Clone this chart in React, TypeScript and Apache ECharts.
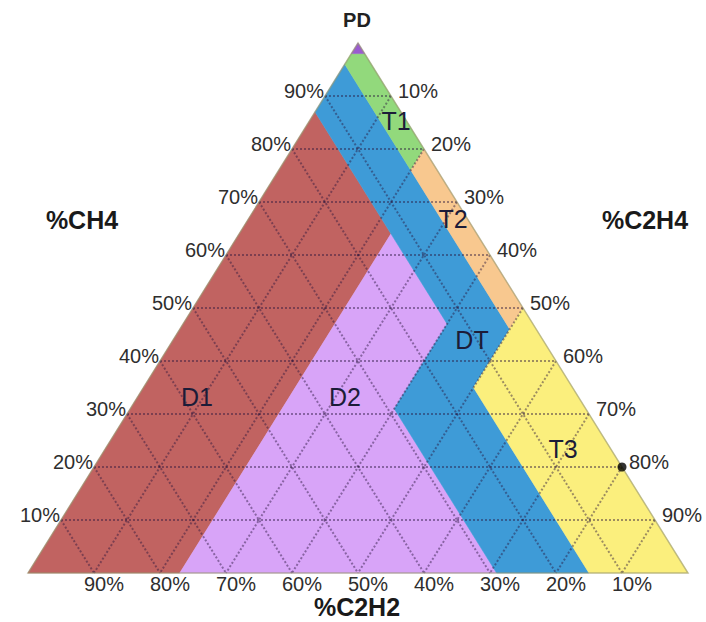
import React, { useEffect, useRef } from "react";
import * as echarts from "echarts";

// ---- data (ternary coordinates: [CH4, C2H4, C2H2] in %) ----
const GRID_PERCENTS = [10, 20, 30, 40, 50, 60, 70, 80, 90];
const TICK_LABELS = GRID_PERCENTS.map((p) => `${p}%`);

const ZONE_NAMES = ["D1", "D2", "DT", "T1", "T2", "T3", "PD"];
const pdZone = [[100, 0, 0], [98, 2, 0], [98, 0, 2]];
const t1Zone = [[98, 2, 0], [80, 20, 0], [76, 20, 4], [96, 0, 4], [98, 0, 2]];
const t2Zone = [[80, 20, 0], [50, 50, 0], [46, 50, 4], [76, 20, 4]];
const t3Zone = [[50, 50, 0], [0, 100, 0], [0, 85, 15], [35, 50, 15]];
const d1Zone = [[87, 0, 13], [0, 0, 100], [0, 23, 77], [64, 23, 13]];
const d2Zone = [[64, 23, 13], [0, 23, 77], [0, 71, 29], [31, 40, 29], [47, 40, 13]];
const dtZone = [
  [96, 0, 4], [76, 20, 4], [46, 50, 4], [35, 50, 15], [0, 85, 15],
  [0, 71, 29], [31, 40, 29], [47, 40, 13], [64, 23, 13], [87, 0, 13],
];
const ZONE_POLYGONS = [d1Zone, d2Zone, dtZone, t1Zone, t2Zone, t3Zone, pdZone];
const OUTLINE = [[100, 0, 0], [0, 100, 0], [0, 0, 100]];

const samplePoints = [[20, 80, 0]];

// ---- styles ----
const ZONE_COLORS: Record<string, string> = {
  D1: "#c16361",
  D2: "#d8a4f8",
  DT: "#3e9bd7",
  T1: "#92d97c",
  T2: "#f8c88f",
  T3: "#fbef7d",
  PD: "#9a5bd0",
};
const FONT = "'Liberation Sans', Arial, sans-serif";

// ternary -> cartesian (0..1)
const toXY = (t: number[]) => [t[1] / 100 + t[0] / 200, t[0] / 100];

export default function App() {
  const ref = useRef<HTMLDivElement>(null);
  useEffect(() => {
    if (!ref.current) return;
    const chart = echarts.init(ref.current, undefined, { renderer: "svg" });

    const gridLineStyle = {
      stroke: "rgba(40,20,60,0.45)",
      lineWidth: 2,
      lineDash: [2, 2],
    };

    const center = { align: "center", verticalAlign: "middle", textAlign: "center", textVerticalAlign: "middle" };

    const option: any = {
      animation: false,
      backgroundColor: "#ffffff",
      grid: { left: 28, right: 18, top: 43, bottom: 49 },
      xAxis: { type: "value", min: 0, max: 1, show: false },
      yAxis: { type: "value", min: 0, max: 1, show: false },
      series: [
        {
          type: "custom",
          name: "zones",
          clip: false,
          silent: true,
          data: ZONE_NAMES.map(() => [0.5, 0.5]),
          renderItem: (params: any, api: any) => {
            const name = ZONE_NAMES[params.dataIndex];
            const pts = ZONE_POLYGONS[params.dataIndex].map((t) => api.coord(toXY(t)));
            return {
              type: "polygon",
              shape: { points: pts },
              style: { fill: ZONE_COLORS[name], stroke: ZONE_COLORS[name], lineWidth: 0.6 },
            };
          },
          z: 1,
        },
        {
          type: "custom",
          name: "gridlines",
          clip: false,
          silent: true,
          data: GRID_PERCENTS.map(() => [0.5, 0.5]),
          renderItem: (params: any, api: any) => {
            const p = GRID_PERCENTS[params.dataIndex];
            const seg = (a: number[], b: number[]) => {
              const A = api.coord(toXY(a));
              const B = api.coord(toXY(b));
              return {
                type: "line",
                shape: { x1: A[0], y1: A[1], x2: B[0], y2: B[1] },
                style: gridLineStyle,
              };
            };
            return {
              type: "group",
              children: [
                seg([p, 0, 100 - p], [p, 100 - p, 0]),
                seg([100 - p, p, 0], [0, p, 100 - p]),
                seg([100 - p, 0, p], [0, 100 - p, p]),
              ],
            };
          },
          z: 2,
        },
        {
          type: "custom",
          name: "outline",
          clip: false,
          silent: true,
          data: [[0.5, 0.5]],
          renderItem: (params: any, api: any) => ({
            type: "polygon",
            shape: { points: OUTLINE.map((t) => api.coord(toXY(t))) },
            style: { fill: "none", stroke: "rgba(150,150,110,0.6)", lineWidth: 1.5 },
          }),
          z: 3,
        },
        {
          type: "custom",
          name: "ticklabels",
          clip: false,
          silent: true,
          data: GRID_PERCENTS.map(() => [0.5, 0.5]),
          renderItem: (params: any, api: any) => {
            const i = params.dataIndex;
            const p = GRID_PERCENTS[i];
            const text = TICK_LABELS[i];
            const L = api.coord(toXY([p, 0, 100 - p]));
            const R = api.coord(toXY([100 - p, p, 0]));
            const B = api.coord(toXY([0, 100 - p, p]));
            const mk = (x: number, y: number, align: string) => ({
              type: "text",
              x,
              y,
              style: {
                text,
                fill: "#2e2e2e",
                font: `20px ${FONT}`,
                align,
                verticalAlign: "middle",
                textAlign: align,
                textVerticalAlign: "middle",
              },
            });
            return {
              type: "group",
              children: [
                mk(L[0] - 1, L[1] - 5, "right"),
                mk(R[0] + 7, R[1] - 5, "left"),
                mk(B[0] + 10, B[1] + 11, "center"),
              ],
            };
          },
          z: 4,
        },
        {
          type: "scatter",
          name: "sample",
          data: samplePoints.map(toXY),
          symbol: "circle",
          symbolSize: 9,
          itemStyle: { color: "#000000" },
          z: 5,
        },
      ],
      graphic: [
        { type: "text", x: 357, y: 20, style: { text: "PD", font: `bold 20px ${FONT}`, fill: "#222", ...center } },
        { type: "text", x: 82, y: 220, style: { text: "%CH4", font: `bold 25px ${FONT}`, fill: "#1a1a1a", ...center } },
        { type: "text", x: 645, y: 220, style: { text: "%C2H4", font: `bold 25px ${FONT}`, fill: "#1a1a1a", ...center } },
        { type: "text", x: 357, y: 607, style: { text: "%C2H2", font: `bold 25px ${FONT}`, fill: "#1a1a1a", ...center } },
        ...[
          ["T1", 396, 121],
          ["T2", 453, 219],
          ["DT", 472, 340],
          ["D1", 197, 397],
          ["D2", 345, 397],
          ["T3", 563, 449],
        ].map(([t, x, y]) => ({
          type: "text",
          x,
          y,
          z: 10,
          style: { text: t, font: `25px ${FONT}`, fill: "#1c1c38", ...center },
        })),
      ],
    };
    chart.setOption(option);
    return () => chart.dispose();
  }, []);
  return (
    <div
      ref={ref}
      style={{ position: "fixed", left: 0, top: 0, width: 706, height: 622, background: "#fff" }}
    />
  );
}
